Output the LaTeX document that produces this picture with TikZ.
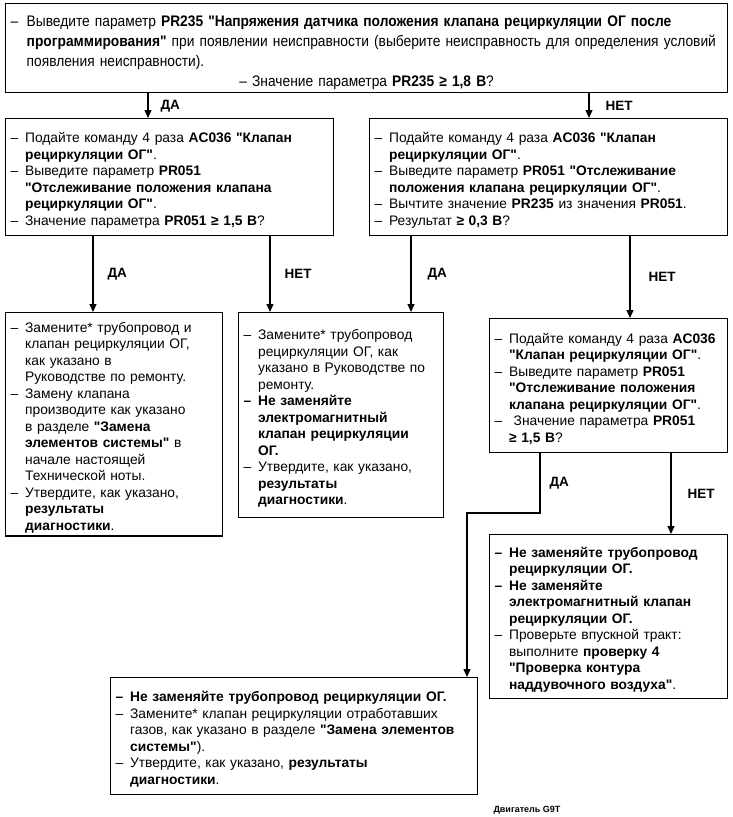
\documentclass[tikz,border=0pt]{standalone}
\usepackage{fontspec}
\setmainfont{Liberation Sans}
\newfontfamily\plainsans{Liberation Sans}
\newfontfamily\narrowsans[FakeStretch=0.9]{Liberation Sans}
\usetikzlibrary{arrows.meta, positioning, calc}

\newcommand{\boxfont}{\plainsans\fontsize{13.8}{16.5}\selectfont}
\newcommand{\entry}[1]{\par\noindent\hangindent=1.05em\hangafter=1\makebox[1.05em][l]{–}{\let\\\newline #1}\par}
\newcommand{\bentry}[1]{{\bfseries\entry{#1}}}

\begin{document}
\begin{tikzpicture}[
x=1pt, y=-1pt,
    stage/.style={draw, line width=1.3pt, anchor=north west, align=left, inner xsep=5pt, inner ysep=3pt, font=\boxfont},
    answer/.style={font=\plainsans\bfseries\fontsize{13.5}{15}\selectfont, inner sep=0pt},
    flow/.style={draw, line width=1.1pt, -{Triangle[length=8pt,width=7pt]}}
]
\useasboundingbox (0,0) rectangle (733,817);

    % First check
    \node[stage, text width=712pt, minimum height=85pt, font=\narrowsans\fontsize{15.3}{20}\selectfont] (check) at (5,3) {%
      \entry{Выведите параметр \textbf{PR235 "Напряжения датчика положения клапана рециркуляции ОГ после\\ программирования"} при появлении неисправности (выберите неисправность для определения условий\\ появления неисправности).}
      {\centering – Значение параметра \textbf{PR235 ≥ 1,8 В}?\par}};

    % Second checks
    \node[stage, text width=318pt, minimum height=117pt] (trymin) at (5,118) {%
      \entry{Подайте команду 4 раза \textbf{AC036 "Клапан\\ рециркуляции ОГ"}.}
      \entry{Выведите параметр \textbf{PR051\\ "Отслеживание положения клапана\\ рециркуляции ОГ"}.}
      \entry{Значение параметра \textbf{PR051 ≥ 1,5 В}?}};
    \node[stage, text width=348pt, minimum height=117pt] (diff) at (369,118) {%
      \entry{Подайте команду 4 раза \textbf{AC036 "Клапан\\ рециркуляции ОГ"}.}
      \entry{Выведите параметр \textbf{PR051 "Отслеживание\\ положения клапана рециркуляции ОГ"}.}
      \entry{Вычтите значение \textbf{PR235} из значения \textbf{PR051}.}
      \entry{Результат \textbf{≥ 0,3 В}?}};

    % Repairs
    \node[stage, text width=207pt, minimum height=214pt] (replall) at (5,312) {%
      \entry{Замените* трубопровод и\\ клапан рециркуляции ОГ,\\ как указано в\\ Руководстве по ремонту.}
      \entry{Замену клапана\\ производите как указано\\ в разделе \textbf{"Замена\\ элементов системы"} в\\ начале настоящей\\ Технической ноты.}
      \entry{Утвердите, как указано,\\ \textbf{результаты\\ диагностики}.}};
    \node[stage, text width=195pt, minimum height=205pt] (replpipe) at (238,312) {%
      \entry{Замените* трубопровод\\ рециркуляции ОГ, как\\ указано в Руководстве по\\ ремонту.}
      \bentry{Не заменяйте\\ электромагнитный\\ клапан рециркуляции\\ ОГ.}
      \entry{Утвердите, как указано,\\ \textbf{результаты\\ диагностики}.}};

    % Third check
    \node[stage, text width=228pt, minimum height=134pt] (trymax) at (489,318) {%
      \entry{Подайте команду 4 раза \textbf{AC036\\ "Клапан рециркуляции ОГ"}.}
      \entry{Выведите параметр \textbf{PR051\\ "Отслеживание положения\\ клапана рециркуляции ОГ"}.}
      \entry{\ Значение параметра \textbf{PR051\\ ≥ 1,5 В}?}};
    \node[stage, text width=228pt, minimum height=164pt] (intake) at (489,534) {%
      \bentry{Не заменяйте трубопровод\\ рециркуляции ОГ.}
      \bentry{Не заменяйте\\ электромагнитный клапан\\ рециркуляции ОГ.}
      \entry{Проверьте впускной тракт:\\ выполните \textbf{проверку 4\\ "Проверка контура\\ наддувочного воздуха"}.}};
    \node[stage, text width=357pt, minimum height=117pt] (replvalve) at (110,677) {%
      \bentry{Не заменяйте трубопровод рециркуляции ОГ.}
      \entry{Замените* клапан рециркуляции отработавших\\ газов, как указано в разделе \textbf{"Замена элементов\\ системы"}).}
      \entry{Утвердите, как указано, \textbf{результаты\\ диагностики}.}};

    \node[font=\plainsans\bfseries\fontsize{9}{11}\selectfont] (engine) at (527,810) {Двигатель G9T};

    % Connectors
    \coordinate (daturn) at (0,513);
    \draw[flow] ([xshift=143pt]check.south west) -- ([xshift=143pt]check.south west |- trymin.north) node[answer, midway, right=12pt] {ДА};
    \draw[flow] ([xshift=220pt]diff.north west |- check.south) -- ([xshift=220pt]diff.north west) node[answer, midway, right=16pt] {НЕТ};

    \draw[flow] ([xshift=88pt]trymin.south west) -- ([xshift=88pt]trymin.south west |- replall.north) node[answer, midway, right=14pt] {ДА};
    \draw[flow] ([xshift=265pt]trymin.south west) -- ([xshift=265pt]trymin.south west |- replpipe.north) node[answer, midway, right=14pt] {НЕТ};
    \draw[flow] ([xshift=42pt]diff.south west) -- ([xshift=42pt]diff.south west |- replpipe.north) node[answer, midway, right=16pt] {ДА};
    \draw[flow] ([xshift=261pt]diff.south west) -- ([xshift=261pt]diff.south west |- trymax.north) node[answer, midway, right=18pt] {НЕТ};

    \draw[flow] ([xshift=51pt]trymax.south west) -- node[answer, midway, right=9pt] {ДА} ([xshift=51pt]trymax.south west |- daturn) -| ([xshift=357pt]replvalve.north west);
    \draw[flow] ([xshift=182pt]trymax.south west) -- ([xshift=182pt]trymax.south west |- intake.north) node[answer, midway, right=16pt] {НЕТ};

\end{tikzpicture}
\end{document}
